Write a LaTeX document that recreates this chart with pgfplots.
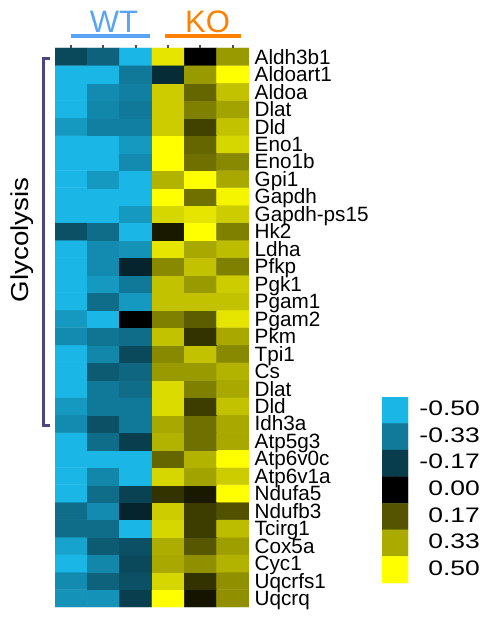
\documentclass[border=0pt]{standalone}
\usepackage{pgfplots}
\pgfplotsset{compat=1.18}
\usepackage{fontspec}
\setmainfont{Liberation Sans}
\definecolor{wtblue}{RGB}{90,164,245}
\definecolor{koorange}{RGB}{255,128,0}
\definecolor{brk}{RGB}{75,70,130}
\begin{document}
\begin{tikzpicture}[x=1pt,y=1pt]
\useasboundingbox (0,0) rectangle (484,619);
\pgfplotsset{colormap={cbk}{rgb255=(25,182,230) rgb255=(0,0,0) rgb255=(255,255,0)}}
\begin{axis}[at={(55pt,12pt)}, anchor=south west, scale only axis, width=194pt, height=559pt,
 xmin=-0.5, xmax=5.5, ymin=-0.5, ymax=31.5,
 colormap name=cbk, point meta min=-0.5, point meta max=0.5,
 axis line style={draw=none}, axis on top,
 xtick={0,...,5}, xticklabels={}, xtick pos=top, tick align=outside, major tick length=2.5pt,
 xtick style={draw=black!70, line width=2pt},
 ytick={0,...,31},
 yticklabels={Uqcrq,Uqcrfs1,Cyc1,Cox5a,Tcirg1,Ndufb3,Ndufa5,Atp6v1a,Atp6v0c,Atp5g3,Idh3a,Dld,Dlat,Cs,Tpi1,Pkm,Pgam2,Pgam1,Pgk1,Pfkp,Ldha,Hk2,Gapdh-ps15,Gapdh,Gpi1,Eno1b,Eno1,Dld,Dlat,Aldoa,Aldoart1,Aldh3b1},
 yticklabel pos=right, ytick style={draw=none},
 yticklabel style={anchor=base west, inner xsep=0pt, xshift=3pt, yshift=-7.4pt, font=\fontsize{20.7}{21}\selectfont},
]
\addplot[matrix plot*, mesh/cols=6, point meta=explicit] table[meta=c, y expr=31-\thisrow{y}]{
x y c
0 31 -0.40
1 31 -0.40
2 31 -0.17
3 31 0.50
4 31 0.04
5 31 0.28
0 30 -0.38
1 30 -0.27
2 30 -0.22
3 30 0.42
4 30 0.10
5 30 0.28
0 29 -0.50
1 29 -0.37
2 29 -0.20
3 29 0.33
4 29 0.28
5 29 0.35
0 28 -0.45
1 28 -0.25
2 28 -0.22
3 28 0.34
4 28 0.17
5 28 0.31
0 27 -0.30
1 27 -0.30
2 27 -0.50
3 27 0.42
4 27 0.12
5 27 0.37
0 26 -0.30
1 26 -0.38
2 26 -0.10
3 26 0.40
4 26 0.12
5 26 0.16
0 25 -0.50
1 25 -0.30
2 25 -0.18
3 25 0.10
4 25 0.05
5 25 0.50
0 24 -0.50
1 24 -0.37
2 24 -0.50
3 24 0.42
4 24 0.32
5 24 0.40
0 23 -0.50
1 23 -0.50
2 23 -0.50
3 23 0.20
4 23 0.35
5 23 0.50
0 22 -0.50
1 22 -0.30
2 22 -0.17
3 22 0.35
4 22 0.22
5 22 0.33
0 21 -0.38
1 21 -0.22
2 21 -0.33
3 21 0.33
4 21 0.22
5 21 0.33
0 20 -0.42
1 20 -0.33
2 20 -0.33
3 20 0.43
4 20 0.12
5 20 0.38
0 19 -0.50
1 19 -0.33
2 19 -0.30
3 19 0.43
4 19 0.25
5 19 0.33
0 18 -0.50
1 18 -0.25
2 18 -0.28
3 18 0.30
4 18 0.30
5 18 0.35
0 17 -0.50
1 17 -0.37
2 17 -0.20
3 17 0.27
4 17 0.38
5 17 0.27
0 16 -0.38
1 16 -0.32
2 16 -0.30
3 16 0.38
4 16 0.10
5 16 0.33
0 15 -0.42
1 15 -0.50
2 15 0.00
3 15 0.25
4 15 0.18
5 15 0.45
0 14 -0.50
1 14 -0.30
2 14 -0.42
3 14 0.38
4 14 0.38
5 14 0.38
0 13 -0.50
1 13 -0.42
2 13 -0.33
3 13 0.38
4 13 0.30
5 13 0.40
0 12 -0.50
1 12 -0.38
2 12 -0.10
3 12 0.27
4 12 0.38
5 12 0.25
0 11 -0.50
1 11 -0.38
2 11 -0.40
3 11 0.45
4 11 0.33
5 11 0.37
0 10 -0.22
1 10 -0.30
2 10 -0.50
3 10 0.05
4 10 0.50
5 10 0.25
0 9 -0.50
1 9 -0.50
2 9 -0.42
3 9 0.42
4 9 0.45
5 9 0.40
0 8 -0.50
1 8 -0.50
2 8 -0.50
3 8 0.50
4 8 0.22
5 8 0.48
0 7 -0.50
1 7 -0.42
2 7 -0.50
3 7 0.35
4 7 0.50
5 7 0.33
0 6 -0.50
1 6 -0.50
2 6 -0.38
3 6 0.50
4 6 0.22
5 6 0.27
0 5 -0.50
1 5 -0.50
2 5 -0.42
3 5 0.50
4 5 0.20
5 5 0.42
0 4 -0.42
1 4 -0.35
2 4 -0.35
3 4 0.40
4 4 0.13
5 4 0.38
0 3 -0.50
1 3 -0.37
2 3 -0.33
3 3 0.40
4 3 0.25
5 3 0.32
0 2 -0.50
1 2 -0.38
2 2 -0.35
3 2 0.40
4 2 0.20
5 2 0.38
0 1 -0.50
1 1 -0.50
2 1 -0.33
3 1 -0.12
4 1 0.30
5 1 0.50
0 0 -0.20
1 0 -0.27
2 0 -0.50
3 0 0.45
4 0 0.00
5 0 0.30
};
\end{axis}
% colour key
\begin{axis}[at={(382pt,36pt)}, anchor=south west, scale only axis, width=26pt, height=186pt,
 xmin=-0.5, xmax=1.5, ymin=-0.5, ymax=6.5, y dir=reverse,
 colormap name=cbk, point meta min=-0.5, point meta max=0.5,
 axis line style={draw=none}, xtick=\empty,
 ytick={0,...,6},
 yticklabels={\scalebox{1.26}[1]{-0.50},\scalebox{1.26}[1]{-0.33},\scalebox{1.26}[1]{-0.17},\scalebox{1.26}[1]{0.00},\scalebox{1.26}[1]{0.17},\scalebox{1.26}[1]{0.33},\scalebox{1.26}[1]{0.50}},
 yticklabel pos=right, ytick style={draw=none},
 yticklabel style={anchor=base east, inner xsep=0pt, xshift=72pt, yshift=-5.5pt, font=\fontsize{21}{21}\selectfont},
]
\addplot[matrix plot*, mesh/cols=2, point meta=explicit] table[meta=c]{
x y c
0 0 -0.5
1 0 -0.5
0 1 -0.3333
1 1 -0.3333
0 2 -0.1667
1 2 -0.1667
0 3 0
1 3 0
0 4 0.1667
1 4 0.1667
0 5 0.3333
1 5 0.3333
0 6 0.5
1 6 0.5
};
\end{axis}
\node[anchor=base, text=wtblue, font=\fontsize{31}{31}\selectfont] at (114,586) {WT};
\draw[wtblue, line width=4pt] (71,582.5) -- (150,582.5);
\node[anchor=base, text=koorange, font=\fontsize{31}{31}\selectfont] at (207.5,586) {KO};
\draw[koorange, line width=4pt] (165,582.5) -- (241,582.5);
\draw[brk, line width=3pt, line cap=butt, line join=miter] (50,560) -- (43.7,560) -- (43.7,193) -- (50,193);
\node[rotate=90, font=\fontsize{24.5}{25}\selectfont] at (22,379) {\scalebox{1.13}[1]{Glycolysis}};
\end{tikzpicture}
\end{document}
